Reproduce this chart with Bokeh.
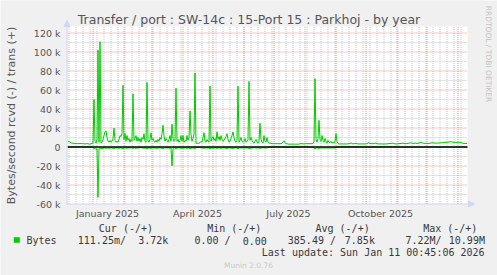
import math
from datetime import datetime, timedelta

from bokeh.plotting import figure
from bokeh.models import (Range1d, Label, Arrow, NormalHead, ColumnDataSource, BoxAnnotation)
from bokeh.core.properties import value
from bokeh.embed import file_html
from bokeh.resources import INLINE

# ---------------- data (daily averages, thousands of bytes/second) ----------------
start_date = datetime(2024, 12, 7)

# trans (+), one value per day from 2024-12-07 to 2026-01-10
out_k = [
    5.5, 6, 5, 4.5, 4, 4, 3.5, 3.5, 4, 3.5, 3.5, 3.5, 4, 3.5, 3.5, 3.5, 3.5, 3, 3.5, 3.5, 3.5, 3, 3, 3.5, 3.5,
    4, 50, 6, 4, 8, 102, 5, 111, 4, 5, 8, 12, 16, 17, 10,
    6, 5, 7, 5, 6, 9, 20, 7, 5, 6, 5, 8, 12, 11, 14,
    65, 8, 14, 6, 12, 7, 9, 5, 8, 6, 56, 7, 9, 12, 6,
    10, 6, 9, 5, 10, 8, 14, 6, 5, 68, 7, 5, 8, 15, 7,
    9, 6, 5, 7, 5, 8, 6, 10, 8, 14, 23, 12, 6, 9, 7,
    5, 8, 12, 6, 24, 9, 6, 7, 62, 6, 8, 5, 7, 12, 6,
    12, 5, 7, 6, 12, 7, 10, 38, 13, 6, 9, 14, 78, 4, 4,
    4, 4, 4.5, 6, 5, 10, 15, 6, 5, 8, 6, 5, 64, 6, 9,
    11, 7, 9, 6, 16, 8, 11, 7, 12, 8, 6, 7, 9, 11, 14,
    8, 5, 6, 9, 12, 16, 10, 6, 5, 7, 64, 5, 7, 10, 6,
    5, 6, 9, 5, 6, 8, 69, 7, 10, 7, 5, 4, 6, 8, 5,
    4, 6, 25, 8, 5, 4, 12, 6, 5, 10, 5, 4, 4, 4, 3.5,
    3.5, 3.5, 3.5, 3.5, 3.5, 3.5, 3.5, 3.5, 3.5, 4, 5, 6.5, 4.5, 3.5, 3.5,
    3, 3, 3, 3, 3, 3, 3, 3, 3, 3, 3, 3, 3.5, 3.5, 3.5, 3.5, 3, 3.5, 3.5, 3.5,
    3.5, 3.5, 3.5, 3.5, 3.5, 4,
    5, 72, 8, 5, 9, 28, 8, 6, 12, 7, 5, 9, 6, 4, 7, 5, 4.5, 6, 4, 5, 4, 6, 14, 6, 3.5,
    3.2, 3.2, 3.2, 3.3, 3.2, 3.2, 3.3, 3.2, 3.2, 3.3,
    3.5, 3.8, 4.2, 3.6, 3.3, 3.5, 3.7, 3.9, 3.4, 3.3,
    3.2, 3.2, 3.3, 3.2, 3.2, 3.3, 3.2, 3.3, 3.6, 4.2,
    4.5, 3.8, 3.5, 3.6, 3.4, 3.8, 4.0, 4.1, 3.6, 3.3,
    3.2, 3.2, 3.3, 3.2, 3.2, 3.1, 3.2, 3.3, 3.2, 3.5,
    3.6, 3.8, 3.7, 3.9, 4.0, 3.6, 3.3, 3.2, 3.2, 3.4,
    3.5, 3.8, 3.6, 3.9, 4.0, 3.7, 3.5, 3.4, 3.6, 3.8,
    4.0, 4.3, 4.5, 4.0, 3.7, 3.8, 4.1, 4.0, 3.6, 3.9,
    4.3, 4.6, 5.0, 4.5, 4.1, 3.8, 3.9, 4.0, 3.7, 3.5,
    3.8, 4.0, 4.2, 4.4, 4.5, 4.2, 4.0, 4.1, 4.3, 4.1,
    4.2, 4.4, 4.5, 4.3, 4.6, 4.8, 4.7, 5.0, 4.8, 5.2,
    5.3, 5.5, 5.6, 5.2, 5.0, 4.9, 5.1, 4.8, 4.9, 5.0,
    5.0, 4.9, 4.7, 4.3, 3.9, 3.8, 3.7, 3.8, 3.72,
]

# rcvd (-), magnitudes, same days
in_k = [
    0, 0, 0, 0, 0, 0, 0, 0, 0, 0, 0, 0, 0, 0, 0, 0, 0, 0, 0, 0, 0, 0, 0, 0, 0,
    0.5, 1.5, 2, 2, 2, 53, 2, 2, 1.5, 1.5, 1.5, 1, 1, 1.5, 1,
    1, 1.5, 1, 1, 1, 1.5, 2, 1, 1, 1, 1, 1.5, 1, 1, 1.5,
    2, 1, 1, 1, 1.5, 1, 1, 1, 1, 1, 1.5, 1, 1, 1.5, 1,
    1, 1, 0.5, 0.5, 1, 1, 1.5, 1, 1, 2, 1, 1, 1, 1.5, 1,
    1, 1, 1, 1, 1.5, 1, 1, 1, 1, 1.5, 2, 1, 1, 1, 1,
    1, 1, 1.5, 1, 20, 1.5, 1, 1, 2, 1, 1, 1, 1, 1.5, 1,
    1.5, 1, 1, 1, 1.5, 1, 1, 2, 1.5, 1, 1, 1, 2, 0.5, 0.5,
    0.5, 0.5, 0.5, 1, 1, 1, 1.5, 1, 1, 1, 1, 1, 2, 1, 1,
    1.5, 1, 1, 1, 1.5, 1, 1, 1, 1.5, 1, 1, 1, 1, 1.5, 1.5,
    1, 1, 1, 1, 1.5, 1.5, 1, 1, 1, 1, 2, 1, 1, 1, 1,
    1, 1, 1, 1, 1, 1, 2, 1, 1.5, 1, 1, 0.5, 1, 1, 1,
    1, 1, 1.5, 1, 1, 0.5, 1, 1, 1, 1, 0.5, 0, 0, 0, 0,
    0, 0, 0, 0, 0, 0, 0, 0, 0, 0, 0, 0, 0, 0, 0, 0, 0, 0, 0, 0,
    0, 0, 0, 0, 0, 0, 0, 0, 0, 0, 0, 0, 0, 0, 0, 0, 0, 0, 0, 0,
    0,
    1, 2, 1, 1, 1, 1.5, 1, 1, 1, 1, 1, 1, 1, 1, 1, 1, 1, 1, 1, 1, 1, 1, 1, 0, 0,
    0, 0, 0, 0, 0, 0, 0, 0, 0, 0, 0, 0, 0, 0, 0, 0, 0, 0, 0, 0,
    0, 0, 0, 0, 0, 0, 0, 0, 0, 0, 0, 0, 0, 0, 0, 0, 0, 0, 0, 0,
    0, 0, 0, 0, 0, 0, 0, 0, 0, 0, 0, 0, 0, 0, 0, 0, 0, 0, 0, 0,
    0, 0, 0, 0, 0, 0, 0, 0, 0, 0, 0, 0, 0, 0, 0, 0, 0, 0, 0, 0,
    0, 0, 0, 0, 0, 0, 0, 0, 0, 0, 0, 0, 0, 0, 0, 0, 0, 0, 0, 0,
    0, 0, 0, 0, 0, 0, 0, 0, 0, 0, 0, 0, 0, 0, 0, 0, 0, 0, 0, 0,
    0, 0, 0, 0, 0, 0, 0, 0, 0,
]

y_ticks = [-60000, -40000, -20000, 0, 20000, 40000, 60000, 80000, 100000, 120000]
y_tick_labels = ["-60 k", "-40 k", "-20 k", "0", "20 k", "40 k", "60 k", "80 k", "100 k", "120 k"]

x_label_dates = [datetime(2025, 1, 16), datetime(2025, 4, 16), datetime(2025, 7, 16), datetime(2025, 10, 16)]
x_labels = ["January 2025", "April 2025", "July 2025", "October 2025"]

title_text = "Transfer / port : SW-14c : 15-Port 15 : Parkhoj - by year"
y_axis_text = "Bytes/second rcvd (-) / trans (+)"
legend_headers = ["Cur (-/+)", "Min (-/+)", "Avg (-/+)", "Max (-/+)"]
legend_values = ["Bytes", "111.25m/", "3.72k", "0.00 /", "0.00", "385.49 /", "7.85k", "7.22M/", "10.99M"]
last_update = "Last update: Sun Jan 11 00:45:06 2026"
footer = "Munin 2.0.76"
side_note = "RRDTOOL / TOBI OETIKER"

# ---------------- layout constants ----------------
W, H = 497, 275
PLOT_L, PLOT_R, PLOT_T = 67, 467, 26
BOTTOM_PX = 203.5                 # pixel row centre of the y-axis minimum
Y_LO = -60000
V_PX = 10000 / 9.5                # value units per pixel
Y_HI = Y_LO + (BOTTOM_PX - PLOT_T) * V_PX
n_days = len(out_k)
end_date = start_date + timedelta(days=400)
DAY_PX = (PLOT_R - PLOT_L) / 400.0

FONT = "DejaVu Sans"
MONO = "DejaVu Sans Mono"
TXT = "#555555"
LEG = "#383838"
AXIS = "#CFD6F8"
GREEN = "#00CC00"
GRID_MINOR = "#C8C8C8"
GRID_MAJOR = "#EE9090"

x_lo = start_date - timedelta(days=PLOT_L / DAY_PX)
x_hi = end_date + timedelta(days=(W - PLOT_R) / DAY_PX)
y_lo = Y_LO - (H - BOTTOM_PX) * V_PX
y_hi = Y_LO + BOTTOM_PX * V_PX

p = figure(width=W, height=H, output_backend="svg", toolbar_location=None,
           x_axis_type=None, y_axis_type=None,
           x_range=Range1d(x_lo, x_hi), y_range=Range1d(y_lo, y_hi),
           min_border=0, min_border_left=0, min_border_right=0,
           min_border_top=0, min_border_bottom=0,
           background_fill_color="#F0F0F0", border_fill_color="#F0F0F0",
           outline_line_color=None)

# canvas-pixel helper ranges for page decorations
p.extra_x_ranges = {"px": Range1d(0, W)}
p.extra_y_ranges = {"py": Range1d(H, 0)}

# white graph canvas
p.quad(left=[start_date], right=[end_date], bottom=[Y_LO], top=[Y_HI],
       fill_color="white", line_color=None, level="image")

# grid lines (dates at midday so the 1px lines land on pixel centres)
half = timedelta(hours=12)
week_lines = []
d = datetime(2024, 12, 8)
while d < end_date:
    week_lines.append(d + half)
    d += timedelta(days=7)
month_lines = [datetime(2025, m, 1) + half for m in range(1, 13)] + [datetime(2026, 1, 1) + half]
minor_y = [-50000, -30000, -10000, 10000, 30000, 50000, 70000, 90000, 110000]
major_y = [-40000, -20000, 20000, 40000, 60000, 80000, 100000, 120000]

p.segment(x0=week_lines, x1=week_lines, y0=[Y_LO] * len(week_lines), y1=[Y_HI] * len(week_lines),
          line_color=GRID_MINOR, line_width=1, line_dash="1 1", level="underlay")
p.segment(x0=[start_date] * len(minor_y), x1=[end_date] * len(minor_y), y0=minor_y, y1=minor_y,
          line_color=GRID_MINOR, line_width=1, line_dash="1 1", level="underlay")
p.segment(x0=month_lines, x1=month_lines, y0=[Y_LO] * len(month_lines), y1=[Y_HI] * len(month_lines),
          line_color=GRID_MAJOR, line_width=1, line_dash="1 1", level="underlay")
p.segment(x0=[start_date] * len(major_y), x1=[end_date] * len(major_y), y0=major_y, y1=major_y,
          line_color=GRID_MAJOR, line_width=1, line_dash="1 1", level="underlay")

# axis lines with arrow heads
p.add_layout(Arrow(x_start=PLOT_L - 1, y_start=BOTTOM_PX, x_end=PLOT_R + 7, y_end=BOTTOM_PX,
                   end=NormalHead(size=6, fill_color=AXIS, line_color=AXIS),
                   line_color=AXIS, line_width=1, x_range_name="px", y_range_name="py"))
p.add_layout(Arrow(x_start=PLOT_L - 0.5, y_start=BOTTOM_PX + 1, x_end=PLOT_L - 0.5, y_end=PLOT_T - 6,
                   end=NormalHead(size=6, fill_color=AXIS, line_color=AXIS),
                   line_color=AXIS, line_width=1, x_range_name="px", y_range_name="py"))

# data
dates = [start_date + timedelta(days=i, hours=12) for i in range(n_days)]
src = ColumnDataSource(dict(x=dates,
                            out=[v * 1000 for v in out_k],
                            inn=[-v * 1000 for v in in_k]))
p.line("x", "inn", source=src, line_color=GREEN, line_width=1)
p.line("x", "out", source=src, line_color=GREEN, line_width=1)
p.segment(x0=[start_date], x1=[end_date], y0=[0], y1=[0], line_color="black", line_width=1.3)

# tick labels, placed through the data scales
p.text(x=[start_date] * len(y_ticks), y=y_ticks, text=y_tick_labels,
       x_offset=-7, text_align="right", text_baseline="middle",
       text_font=value(FONT), text_font_size=value("9.5px"), text_color=TXT)
p.text(x=x_label_dates, y=[Y_LO] * len(x_label_dates), text=x_labels,
       y_offset=4, text_align="center", text_baseline="top",
       text_font=value(FONT), text_font_size=value("9.5px"), text_color=TXT)


def lab(text, x, y, size, color, font=FONT, align="left", angle=0.0):
    p.add_layout(Label(x=x, y=y, text=text, x_range_name="px", y_range_name="py",
                       text_font=font, text_font_size=size, text_color=color,
                       text_align=align, text_baseline="middle", angle=angle))


lab(title_text, 248.5, 19, "12.5px", TXT, align="center")
lab(y_axis_text, 11, 115, "11px", TXT, align="center", angle=math.pi / 2)
lab(side_note, 487.7, 53.5, "7.5px", "#C4C4C4", align="center", angle=-math.pi / 2)

for t, x in zip(legend_headers, [98.3, 206.7, 315.0, 422.7]):
    lab(t, x, 227.7, "10px", LEG, font=MONO)
for t, x in zip(legend_values, [26.0, 77.3, 137.7, 194.0, 242.3, 287.3, 344.3, 405.0, 448.3]):
    lab(t, x, 240, "10px", LEG, font=MONO)
lab(last_update, 261.3, 251.7, "10px", LEG, font=MONO)
lab(footer, 248, 264.5, "7.5px", "#C8C8C8", align="center")

p.add_layout(BoxAnnotation(left=13.3, right=19.3, top=236.7, bottom=242.3,
                           fill_color=GREEN, fill_alpha=1.0, line_color=None,
                           x_range_name="px", y_range_name="py"))

open("out.html", "w").write(file_html(p, INLINE))
